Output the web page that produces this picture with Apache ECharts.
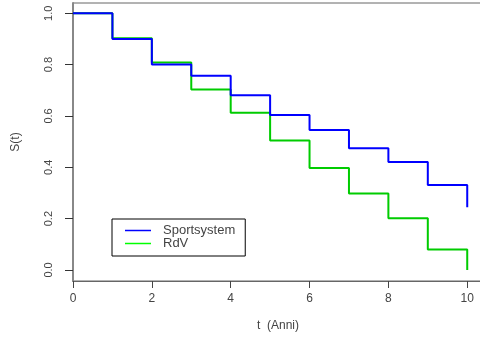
<!DOCTYPE html>
<html>
<head>
<meta charset="utf-8">
<script src="https://cdn.jsdelivr.net/npm/echarts@6/dist/echarts.min.js"></script>
<style>
  html, body { margin: 0; padding: 0; background: #fff; }
  #chart { width: 480px; height: 339px; }
</style>
</head>
<body>
<div id="chart"></div>
<script>
// tempi (anni) e stime di sopravvivenza
const tempi = [0, 1, 2, 3, 4, 5, 6, 7, 8, 9, 10];
const sportsystem = [1.0, 0.9, 0.80, 0.757, 0.681, 0.604, 0.545, 0.474, 0.421, 0.331, 0.244];
const rdv = [1.0, 0.903, 0.808, 0.703, 0.612, 0.504, 0.397, 0.298, 0.201, 0.080, 0.0];
const xTicks = [0, 2, 4, 6, 8, 10];
const yTicks = [0, 0.2, 0.4, 0.6, 0.8, 1.0];

const chart = echarts.init(document.getElementById('chart'));

const toPairs = (vals) => tempi.map((t, i) => [t, vals[i]]);

const font = 'Liberation Sans, Arial, sans-serif';

const option = {
  animation: false,
  grid: {
    left: 73,
    top: 3,
    width: 410,
    height: 278,
    outerBoundsMode: 'none',
    show: true,
    borderColor: '#666',
    borderWidth: 1
  },
  legend: {
    orient: 'vertical',
    left: 112,
    top: 219,
    padding: [5, 10, 6, 13],
    itemGap: 0,
    itemWidth: 26,
    itemHeight: 1.5,
    icon: 'rect',
    borderColor: '#000',
    borderWidth: 1,
    textStyle: { fontFamily: font, fontSize: 13, color: '#444', lineHeight: 13, padding: [0, 0, 0, 7] },
    data: [
      { name: 'Sportsystem', itemStyle: { color: '#0000ff' } },
      { name: 'RdV', itemStyle: { color: '#00ff00' } }
    ]
  },
  xAxis: {
    type: 'value',
    min: 0,
    max: 10.4,
    name: 't  (Anni)',
    nameLocation: 'middle',
    nameGap: 39,
    nameTextStyle: { fontFamily: font, fontSize: 12, color: '#444' },
    axisLine: { show: true, onZero: false, lineStyle: { color: '#666', width: 1 } },
    axisTick: { show: true, length: 7, customValues: xTicks, lineStyle: { color: '#444' } },
    axisLabel: { customValues: xTicks, margin: 12, fontFamily: font, fontSize: 12, color: '#444' },
    splitLine: { show: false }
  },
  yAxis: {
    type: 'value',
    min: -0.043,
    max: 1.04,
    name: 'S(t)',
    nameLocation: 'middle',
    nameGap: 51,
    nameRotate: 90,
    nameTextStyle: { fontFamily: font, fontSize: 12, color: '#444' },
    axisLine: { show: true, onZero: false, lineStyle: { color: '#888', width: 2 } },
    axisTick: { show: true, length: 8, customValues: yTicks, lineStyle: { color: '#333' } },
    axisLabel: {
      customValues: yTicks,
      rotate: 90,
      margin: 19,
      fontFamily: font,
      fontSize: 11,
      color: '#444',
      formatter: (v) => v.toFixed(1)
    },
    splitLine: { show: false }
  },
  series: [
    {
      name: 'RdV',
      type: 'line',
      step: 'end',
      symbol: 'none',
      data: toPairs(rdv),
      lineStyle: { color: '#00cc00', width: 2 },
      itemStyle: { color: '#00cc00' }
    },
    {
      name: 'Sportsystem',
      type: 'line',
      step: 'end',
      symbol: 'none',
      data: toPairs(sportsystem),
      lineStyle: { color: '#0000ff', width: 2 },
      itemStyle: { color: '#0000ff' }
    }
  ]
};

chart.setOption(option);
</script>
</body>
</html>
